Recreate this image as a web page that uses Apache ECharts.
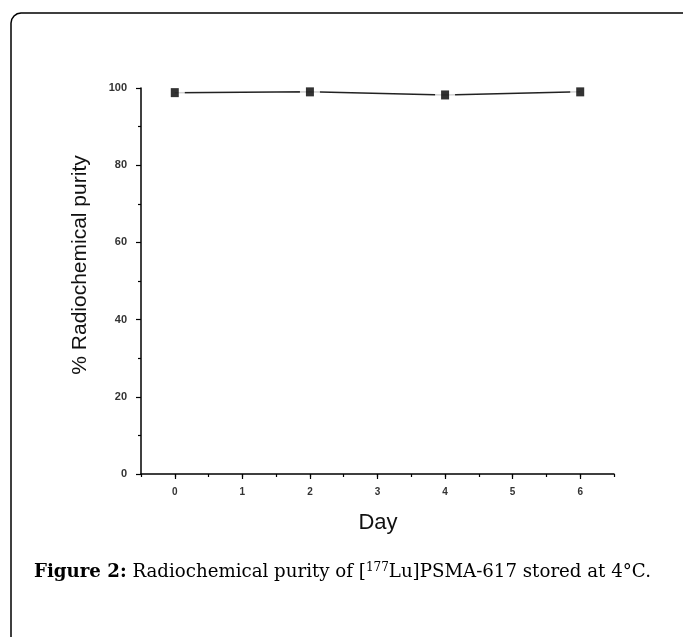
<!DOCTYPE html>
<html>
<head>
<meta charset="utf-8">
<script src="https://cdn.jsdelivr.net/npm/echarts@6/dist/echarts.min.js"></script>
<style>
html,body{margin:0;padding:0;background:#fff;}
#chart{width:683px;height:637px;}
</style>
</head>
<body>
<div id="chart"></div>
<script>
const days = [0, 2, 4, 6];
const purity = [98.8, 99.0, 98.2, 99.0];
const xTickLabels = ['0', '1', '2', '3', '4', '5', '6'];
const yTitle = '% Radiochemical purity';
const xTitle = 'Day';

const points = days.map((d, i) => [d, purity[i]]);
const chart = echarts.init(document.getElementById('chart'), null, {renderer: 'canvas'});

const axisFont = 'Liberation Sans, Arial, sans-serif';
const capFont = 'DejaVu Serif, serif';
const grid = {left: 141, right: 69, top: 88, bottom: 163};

chart.setOption({
  backgroundColor: '#fff',
  animation: false,
  grid: grid,
  xAxis: [
    {
      type: 'value', min: -0.5, max: 6.5, interval: 0.5,
      axisLine: {show: true, onZero: false, lineStyle: {color: '#000', width: 1.5}},
      axisTick: {show: true, length: 3, lineStyle: {color: '#000', width: 1.2}},
      axisLabel: {show: false},
      splitLine: {show: false}
    },
    {
      type: 'category', data: xTickLabels, boundaryGap: true, position: 'bottom',
      axisLine: {show: false},
      axisTick: {show: true, alignWithLabel: true, length: 5, lineStyle: {color: '#000', width: 1.2}},
      axisLabel: {show: true, margin: 13, fontSize: 10, fontWeight: 'bold', color: '#333', fontFamily: axisFont},
      splitLine: {show: false}
    }
  ],
  yAxis: {
    type: 'value', min: 0, max: 100, interval: 20,
    axisLine: {show: true, onZero: false, lineStyle: {color: '#000', width: 1.5}},
    axisTick: {show: true, length: 5, lineStyle: {color: '#000', width: 1.2}},
    minorTick: {show: true, splitNumber: 2, length: 3, lineStyle: {color: '#000', width: 1.2}},
    axisLabel: {show: true, margin: 14, fontSize: 11, fontWeight: 'bold', color: '#333', fontFamily: axisFont},
    splitLine: {show: false}
  },
  series: [
    {
      type: 'line', xAxisIndex: 0, data: points, showSymbol: false, symbol: 'none',
      lineStyle: {color: '#222', width: 1.5}, z: 2, silent: true
    },
    {
      type: 'scatter', xAxisIndex: 0, data: points, symbol: 'rect', symbolSize: [20, 14],
      itemStyle: {color: '#fff'}, z: 3, silent: true
    },
    {
      type: 'scatter', xAxisIndex: 0, data: points, symbol: 'rect', symbolSize: [8, 9],
      itemStyle: {color: '#000'}, z: 4, silent: true
    }
  ],
  graphic: [
    {
      type: 'polyline', silent: true,
      shape: {points: [[11, 637], [11, 23], [11.8, 19.2], [14, 16], [17.2, 13.8], [21, 13], [683, 13]]},
      style: {stroke: '#000', lineWidth: 1.5, fill: null}
    },
    {
      type: 'text', x: 80, y: 265, rotation: Math.PI / 2, silent: true,
      style: {text: yTitle, font: '21px ' + axisFont, fill: '#111', align: 'center', verticalAlign: 'middle'}
    },
    {
      type: 'text', x: 378, y: 523, silent: true,
      style: {text: xTitle, font: '22px ' + axisFont, fill: '#111', align: 'center', verticalAlign: 'middle'}
    },
    {
      type: 'text', x: 34, y: 572, silent: true,
      style: {
        text: '{b|Figure 2:}{n| Radiochemical purity of [}{s|177}{n|Lu]PSMA-617 stored at 4°C.}',
        align: 'left', verticalAlign: 'middle',
        rich: {
          b: {fontFamily: capFont, fontSize: 18.2, fontWeight: 'bold', fill: '#000'},
          n: {fontFamily: capFont, fontSize: 18.2, fill: '#000'},
          s: {fontFamily: capFont, fontSize: 12, fill: '#000', verticalAlign: 'top', padding: [0, 0, 8, 0]}
        }
      }
    }
  ]
});
</script>
</body>
</html>
